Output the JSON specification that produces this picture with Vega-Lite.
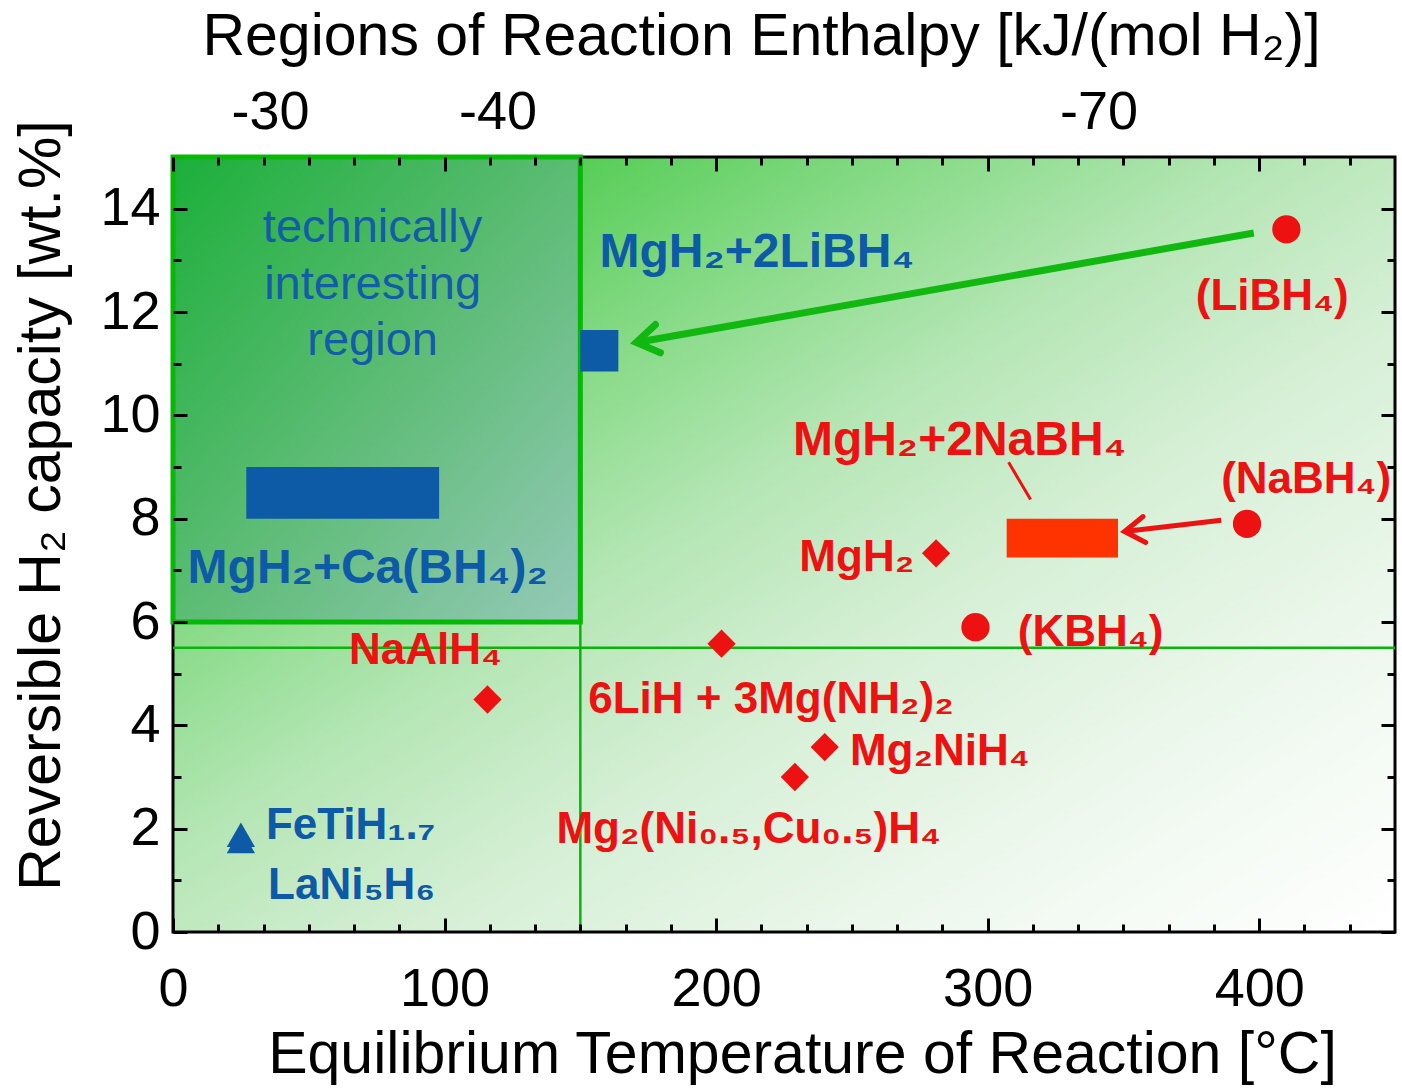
{
  "$schema": "https://vega.github.io/schema/vega-lite/v6.json",
  "width": 1222,
  "height": 775,
  "autosize": {"type": "none"},
  "padding": {"left": 173, "top": 157, "right": 7, "bottom": 156},
  "background": "white",
  "config": {
    "view": {"stroke": null},
    "font": "Liberation Sans",
    "axis": {
      "grid": false,
      "labelFont": "Liberation Sans",
      "labelFontSize": 54,
      "labelColor": "black",
      "labelFlush": false,
      "labelOverlap": false,
      "tickColor": "black",
      "tickWidth": 3,
      "domain": false,
      "titleFont": "Liberation Sans",
      "titleFontSize": 59,
      "titleFontWeight": "normal",
      "titleColor": "black"
    }
  },
  "datasets": {
    "region": [{"name": "technically interesting region", "T1": 0, "T2": 150, "c1": 6, "c2": 15}],
    "composites": [
      {"name": "MgH2+Ca(BH4)2", "T1": 27, "T2": 98, "c1": 8.0, "c2": 9.0, "group": "low-T"},
      {"name": "MgH2+2LiBH4", "T1": 150, "T2": 164, "c1": 10.85, "c2": 11.65, "group": "low-T"},
      {"name": "MgH2+2NaBH4", "T1": 307, "T2": 348, "c1": 7.25, "c2": 8.0, "group": "high-T composite"}
    ],
    "arrows": [
      {"arrow": "LiBH4", "step": 0, "T": 398, "cap": 13.53},
      {"arrow": "LiBH4", "step": 1, "T": 170.6, "cap": 11.41},
      {"arrow": "NaBH4", "step": 0, "T": 386, "cap": 7.97},
      {"arrow": "NaBH4", "step": 1, "T": 350.4, "cap": 7.75},
      {"arrow": "leader", "step": 0, "T": 307.7, "cap": 9.09},
      {"arrow": "leader", "step": 1, "T": 315.8, "cap": 8.37}
    ],
    "points": [
      {"name": "LiBH4", "T": 410, "cap": 13.6, "type": "borohydride", "group": "hydride"},
      {"name": "NaBH4", "T": 395.5, "cap": 7.9, "type": "borohydride", "group": "hydride"},
      {"name": "KBH4", "T": 295.5, "cap": 5.9, "type": "borohydride", "group": "hydride"},
      {"name": "MgH2", "T": 281, "cap": 7.33, "type": "hydride", "group": "hydride"},
      {"name": "6LiH + 3Mg(NH2)2", "T": 202, "cap": 5.58, "type": "hydride", "group": "hydride"},
      {"name": "NaAlH4", "T": 115.8, "cap": 4.5, "type": "hydride", "group": "hydride"},
      {"name": "Mg2NiH4", "T": 240, "cap": 3.58, "type": "hydride", "group": "hydride"},
      {"name": "Mg2(Ni0.5,Cu0.5)H4", "T": 229, "cap": 3.0, "type": "hydride", "group": "hydride"},
      {"name": "FeTiH1.7", "T": 25, "cap": 1.88, "type": "intermetallic", "group": "low-T"},
      {"name": "LaNi5H6", "T": 25, "cap": 1.76, "type": "intermetallic", "group": "low-T"}
    ],
    "labels": [
      {"text": "MgH₂+2LiBH₄", "T": 215, "cap": 13.14, "group": "low-T", "kind": "composite"},
      {"text": "MgH₂+Ca(BH₄)₂", "T": 71.7, "cap": 7.02, "group": "low-T", "kind": "composite"},
      {"text": "MgH₂+2NaBH₄", "T": 289.7, "cap": 9.5, "group": "hydride", "kind": "composite"},
      {"text": "(LiBH₄)", "T": 404.8, "cap": 12.29, "group": "hydride", "kind": "single"},
      {"text": "(NaBH₄)", "T": 417.3, "cap": 8.74, "group": "hydride", "kind": "single"},
      {"text": "MgH₂", "T": 251.8, "cap": 7.23, "group": "hydride", "kind": "single"},
      {"text": "(KBH₄)", "T": 337.9, "cap": 5.78, "group": "hydride", "kind": "single"},
      {"text": "NaAlH₄", "T": 93, "cap": 5.43, "group": "hydride", "kind": "single"},
      {"text": "6LiH + 3Mg(NH₂)₂", "T": 220.2, "cap": 4.5, "group": "hydride", "kind": "single"},
      {"text": "Mg₂NiH₄", "T": 282.4, "cap": 3.49, "group": "hydride", "kind": "single"},
      {"text": "Mg₂(Ni₀.₅,Cu₀.₅)H₄", "T": 212, "cap": 1.98, "group": "hydride", "kind": "single"},
      {"text": "FeTiH₁.₇", "T": 65.4, "cap": 2.05, "group": "low-T", "kind": "single"},
      {"text": "LaNi₅H₆", "T": 65.8, "cap": 0.89, "group": "low-T", "kind": "single"}
    ],
    "regionText": [
      {"text": "technically", "T": 73.5, "cap": 13.35},
      {"text": "interesting", "T": 73.5, "cap": 12.25},
      {"text": "region", "T": 73.5, "cap": 11.16}
    ]
  },
  "resolve": {"axis": {"x": "independent", "y": "independent"}},
  "layer": [
    {
      "data": {"values": [{}]},
      "mark": {
        "type": "rect",
        "stroke": "black",
        "strokeWidth": 3,
        "fill": {
          "gradient": "linear", "x1": 0, "y1": 0, "x2": 1, "y2": 1,
          "stops": [
            {"offset": 0, "color": "#22c022"},
            {"offset": 0.15, "color": "#50cc50"},
            {"offset": 0.3, "color": "#85da85"},
            {"offset": 0.45, "color": "#b5e6b5"},
            {"offset": 0.6, "color": "#d5efd5"},
            {"offset": 0.8, "color": "#eef8ee"},
            {"offset": 1, "color": "#ffffff"}
          ]
        }
      },
      "encoding": {
        "x": {"datum": 0, "type": "quantitative", "scale": {"domain": [0, 450], "nice": false, "zero": false},
          "axis": {"orient": "bottom", "zindex": 1, "values": [0, 100, 200, 300, 400], "format": "d", "ticks": false,
            "labelBaseline": "alphabetic", "labelPadding": 73,
            "title": "Equilibrium Temperature of Reaction [°C]", "titleX": 629, "titleY": 140,
            "titleBaseline": "alphabetic", "titleAlign": "center"}},
        "x2": {"datum": 450},
        "y": {"datum": 0, "type": "quantitative", "scale": {"domain": [0, 15], "nice": false, "zero": false},
          "axis": {"orient": "left", "zindex": 1, "values": [0, 2, 4, 6, 8, 10, 12, 14], "format": "d", "ticks": false,
            "labelPadding": 13,
            "title": "Reversible H₂ capacity [wt.%]", "titleX": -114, "titleY": 348, "titleAngle": -90,
            "titleBaseline": "alphabetic", "titleAlign": "center"}},
        "y2": {"datum": 15}
      }
    },
    {
      "data": {"values": [{}]},
      "mark": {"type": "rule", "color": "#0ab40a", "strokeWidth": 2.5},
      "encoding": {
        "x": {"datum": 150, "type": "quantitative", "scale": {"domain": [0, 450], "nice": false, "zero": false},
          "axis": {"orient": "bottom", "zindex": 1, "values": [0, 100, 200, 300, 400], "labels": false, "ticks": true, "tickSize": -14, "title": null}}
      }
    },
    {
      "data": {"values": [{}]},
      "mark": {"type": "rule", "color": "#0ab40a", "strokeWidth": 2.5},
      "encoding": {
        "y": {"datum": 5.5, "type": "quantitative", "scale": {"domain": [0, 15], "nice": false, "zero": false},
          "axis": {"orient": "left", "zindex": 1, "values": [0, 2, 4, 6, 8, 10, 12, 14], "labels": false, "ticks": true, "tickSize": -14, "title": null}}
      }
    },
    {
      "data": {"name": "region"},
      "mark": {
        "type": "rect",
        "stroke": "#08b808",
        "strokeWidth": 5,
        "fill": {
          "gradient": "linear", "x1": 0, "y1": 0, "x2": 1, "y2": 1,
          "stops": [
            {"offset": 0, "color": "#1caf3a"},
            {"offset": 0.5, "color": "#5cbc74"},
            {"offset": 1, "color": "#95c9b8"}
          ]
        }
      },
      "encoding": {
        "x": {"field": "T1", "type": "quantitative", "scale": {"domain": [0, 450], "nice": false, "zero": false},
          "axis": {"orient": "bottom", "zindex": 1, "values": [16.667, 33.333, 50, 66.667, 83.333, 116.667, 133.333, 150, 166.667, 183.333, 216.667, 233.333, 250, 266.667, 283.333, 316.667, 333.333, 350, 366.667, 383.333, 416.667, 433.333], "labels": false, "ticks": true, "tickSize": -8, "title": null}},
        "x2": {"field": "T2"},
        "y": {"field": "c1", "type": "quantitative", "scale": {"domain": [0, 15], "nice": false, "zero": false},
          "axis": {"orient": "left", "zindex": 1, "values": [1, 3, 5, 7, 9, 11, 13], "labels": false, "ticks": true, "tickSize": -8, "title": null}},
        "y2": {"field": "c2"}
      }
    },
    {
      "data": {"name": "composites"},
      "mark": {"type": "rect"},
      "encoding": {
        "x": {"field": "T1", "type": "quantitative", "scale": {"domain": [0, 450], "nice": false, "zero": false},
          "axis": {"orient": "top", "zindex": 1, "values": [0, 100, 200, 300, 400], "labels": false, "ticks": true, "tickSize": -14, "title": null}},
        "x2": {"field": "T2"},
        "y": {"field": "c1", "type": "quantitative", "scale": {"domain": [0, 15], "nice": false, "zero": false},
          "axis": {"orient": "right", "zindex": 1, "values": [0, 2, 4, 6, 8, 10, 12, 14], "labels": false, "ticks": true, "tickSize": -14, "title": null}},
        "y2": {"field": "c2"},
        "color": {"field": "group", "type": "nominal", "scale": {"domain": ["hydride", "low-T", "high-T composite"], "range": ["#ee1111", "#0d5aa7", "#ff3300"]}, "legend": null}
      }
    },
    {
      "data": {"name": "arrows"},
      "transform": [{"filter": "datum.arrow === 'LiBH4'"}],
      "mark": {"type": "line", "color": "#10b810", "strokeWidth": 7},
      "encoding": {
        "x": {"field": "T", "type": "quantitative", "scale": {"domain": [0, 450], "nice": false, "zero": false},
          "axis": {"orient": "top", "zindex": 1, "values": [16.667, 33.333, 50, 66.667, 83.333, 116.667, 133.333, 150, 166.667, 183.333, 216.667, 233.333, 250, 266.667, 283.333, 316.667, 333.333, 350, 366.667, 383.333, 416.667, 433.333], "labels": false, "ticks": true, "tickSize": -8, "title": null}},
        "y": {"field": "cap", "type": "quantitative", "scale": {"domain": [0, 15], "nice": false, "zero": false},
          "axis": {"orient": "right", "zindex": 1, "values": [1, 3, 5, 7, 9, 11, 13], "labels": false, "ticks": true, "tickSize": -8, "title": null}},
        "order": {"field": "step"}
      }
    },
    {
      "data": {"name": "arrows"},
      "transform": [{"filter": "datum.arrow === 'NaBH4'"}],
      "mark": {"type": "line", "color": "#ee1111", "strokeWidth": 5},
      "encoding": {
        "x": {"field": "T", "type": "quantitative", "axis": null},
        "y": {"field": "cap", "type": "quantitative", "axis": null},
        "order": {"field": "step"}
      }
    },
    {
      "data": {"name": "arrows"},
      "transform": [{"filter": "datum.arrow === 'leader'"}],
      "mark": {"type": "line", "color": "#ee1111", "strokeWidth": 3},
      "encoding": {
        "x": {"field": "T", "type": "quantitative", "axis": null},
        "y": {"field": "cap", "type": "quantitative", "axis": null},
        "order": {"field": "step"}
      }
    },
    {
      "data": {"name": "arrows"},
      "transform": [{"filter": "datum.arrow === 'LiBH4' && datum.step === 1"}],
      "mark": {"type": "point", "shape": "M1,-0.65L0,0L1,0.65", "filled": false, "stroke": "#10b810", "strokeWidth": 7, "size": 1936, "angle": 350, "opacity": 1, "strokeCap": "round", "strokeJoin": "miter"},
      "encoding": {
        "x": {"field": "T", "type": "quantitative", "axis": null},
        "y": {"field": "cap", "type": "quantitative", "axis": null}
      }
    },
    {
      "data": {"name": "arrows"},
      "transform": [{"filter": "datum.arrow === 'NaBH4' && datum.step === 1"}],
      "mark": {"type": "point", "shape": "M1,-0.65L0,0L1,0.65", "filled": false, "stroke": "#ee1111", "strokeWidth": 5, "size": 1600, "angle": 354, "opacity": 1, "strokeCap": "round", "strokeJoin": "miter"},
      "encoding": {
        "x": {"field": "T", "type": "quantitative", "axis": null},
        "y": {"field": "cap", "type": "quantitative", "axis": null}
      }
    },
    {
      "data": {"name": "points"},
      "mark": {"type": "point", "filled": true, "opacity": 1, "size": 800},
      "encoding": {
        "x": {"field": "T", "type": "quantitative", "scale": {"domain": [0, 450], "nice": false, "zero": false},
          "axis": {"orient": "top", "zindex": 1, "values": [35.7, 119.5, 340.8], "ticks": false,
            "labelExpr": "datum.value < 60 ? '-30' : datum.value < 200 ? '-40' : '-70'",
            "labelBaseline": "alphabetic", "labelPadding": 29,
            "title": "Regions of Reaction Enthalpy [kJ/(mol H₂)]", "titleX": 588, "titleY": -103,
            "titleBaseline": "alphabetic", "titleAlign": "center", "titleAngle": 0}},
        "y": {"field": "cap", "type": "quantitative", "axis": null},
        "shape": {"field": "type", "type": "nominal", "scale": {"domain": ["borohydride", "hydride", "intermetallic"], "range": ["circle", "diamond", "triangle-up"]}, "legend": null},
        "color": {"field": "group", "type": "nominal", "scale": {"domain": ["hydride", "low-T", "high-T composite"], "range": ["#ee1111", "#0d5aa7", "#ff3300"]}, "legend": null}
      }
    },
    {
      "data": {"name": "labels"},
      "transform": [{"filter": "datum.kind === 'composite'"}],
      "mark": {"type": "text", "font": "Liberation Sans", "fontWeight": "bold", "fontSize": 48, "align": "center", "baseline": "middle"},
      "encoding": {
        "x": {"field": "T", "type": "quantitative", "axis": null},
        "y": {"field": "cap", "type": "quantitative", "axis": null},
        "text": {"field": "text"},
        "color": {"field": "group", "type": "nominal", "scale": {"domain": ["hydride", "low-T", "high-T composite"], "range": ["#ee1111", "#0d5aa7", "#ff3300"]}, "legend": null}
      }
    },
    {
      "data": {"name": "labels"},
      "transform": [{"filter": "datum.kind === 'single'"}],
      "mark": {"type": "text", "font": "Liberation Sans", "fontWeight": "bold", "fontSize": 44, "align": "center", "baseline": "middle"},
      "encoding": {
        "x": {"field": "T", "type": "quantitative", "axis": null},
        "y": {"field": "cap", "type": "quantitative", "axis": null},
        "text": {"field": "text"},
        "color": {"field": "group", "type": "nominal", "scale": {"domain": ["hydride", "low-T", "high-T composite"], "range": ["#ee1111", "#0d5aa7", "#ff3300"]}, "legend": null}
      }
    },
    {
      "data": {"name": "regionText"},
      "mark": {"type": "text", "font": "Liberation Sans", "fontSize": 47, "align": "center", "baseline": "alphabetic", "color": "#135da8"},
      "encoding": {
        "x": {"field": "T", "type": "quantitative", "axis": null},
        "y": {"field": "cap", "type": "quantitative", "axis": null},
        "text": {"field": "text"}
      }
    }
  ]
}
